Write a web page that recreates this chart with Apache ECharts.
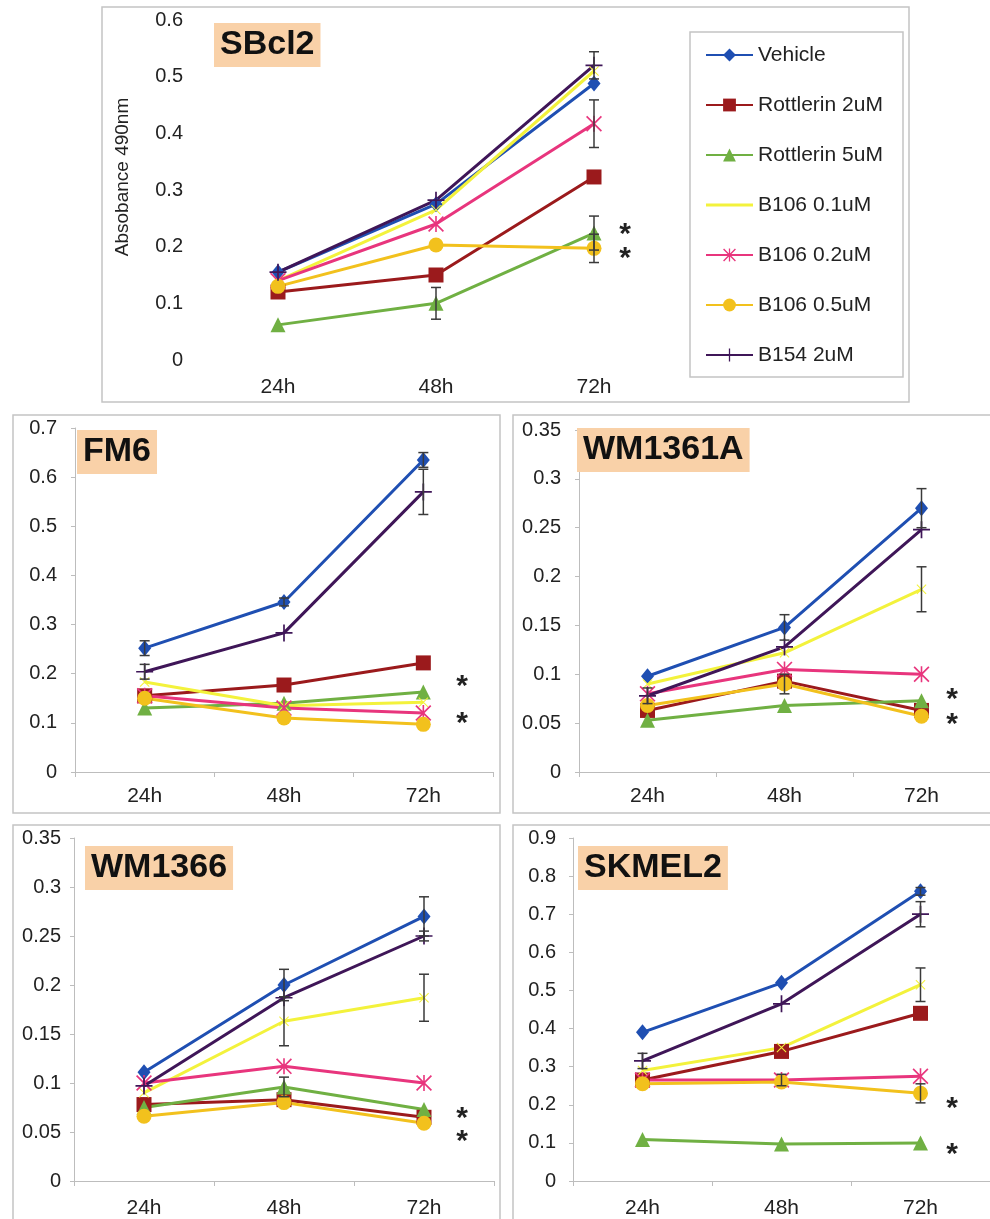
<!DOCTYPE html>
<html>
<head>
<meta charset="utf-8">
<script src="https://cdn.jsdelivr.net/npm/echarts@6/dist/echarts.min.js"></script>
<style>
  html, body { margin: 0; padding: 0; background: #fff; }
  #chart { width: 990px; height: 1219px; }
</style>
</head>
<body>
<div id="chart"></div>
<script>
const hours = ['24h', '48h', '72h'];
const treatments = ['Vehicle', 'Rottlerin 2uM', 'Rottlerin 5uM', 'B106 0.1uM', 'B106 0.2uM', 'B106 0.5uM', 'B154 2uM'];
const cellLines = ['SBcl2', 'FM6', 'WM1361A', 'WM1366', 'SKMEL2'];
const yMax = [0.6, 0.7, 0.35, 0.35, 0.9];
const yStep = [0.1, 0.1, 0.05, 0.05, 0.1];

// mean absorbance, one row per treatment (same order as treatments)
const sbcl2 = [
  [0.155, 0.275, 0.488],
  [0.12, 0.15, 0.323],
  [0.062, 0.10, 0.224],
  [0.14, 0.265, 0.51],
  [0.14, 0.24, 0.417],
  [0.13, 0.203, 0.197],
  [0.155, 0.282, 0.52]
];
const fm6 = [
  [0.252, 0.346, 0.635],
  [0.155, 0.177, 0.222],
  [0.13, 0.14, 0.163],
  [0.183, 0.135, 0.142],
  [0.155, 0.13, 0.12],
  [0.15, 0.11, 0.097],
  [0.204, 0.283, 0.57]
];
const wm1361a = [
  [0.098, 0.148, 0.27],
  [0.063, 0.093, 0.063],
  [0.053, 0.068, 0.073],
  [0.09, 0.122, 0.187],
  [0.08, 0.105, 0.10],
  [0.068, 0.09, 0.057],
  [0.078, 0.128, 0.248]
];
const wm1366 = [
  [0.111, 0.2, 0.27],
  [0.078, 0.083, 0.065],
  [0.075, 0.096, 0.073],
  [0.09, 0.163, 0.187],
  [0.1, 0.117, 0.1],
  [0.066, 0.08, 0.059],
  [0.097, 0.187, 0.25]
];
const skmel2 = [
  [0.39, 0.52, 0.76],
  [0.265, 0.34, 0.44],
  [0.109, 0.097, 0.1],
  [0.29, 0.35, 0.515],
  [0.265, 0.265, 0.275],
  [0.255, 0.26, 0.23],
  [0.315, 0.465, 0.70]
];

// error bar half-widths (0 = no bar drawn)
const sbcl2Err = [[0, 0, 0], [0, 0, 0], [0, 0.028, 0.03], [0, 0, 0], [0, 0, 0.042], [0, 0, 0.025], [0, 0, 0.024]];
const fm6Err = [[0.015, 0.008, 0.015], [0, 0, 0], [0, 0, 0], [0, 0, 0], [0, 0, 0], [0, 0, 0], [0.015, 0, 0.046]];
const wm1361aErr = [[0, 0.013, 0.02], [0, 0, 0], [0, 0, 0], [0, 0, 0.023], [0, 0, 0], [0, 0.01, 0], [0.008, 0, 0]];
const wm1366Err = [[0, 0.016, 0.02], [0, 0, 0], [0, 0.01, 0], [0, 0.025, 0.024], [0, 0, 0], [0, 0, 0], [0, 0, 0.005]];
const skmel2Err = [[0, 0, 0.01], [0, 0, 0], [0, 0, 0], [0, 0, 0.044], [0, 0.015, 0], [0, 0, 0.025], [0.02, 0, 0.033]];

const means = [sbcl2, fm6, wm1361a, wm1366, skmel2];
const errors = [sbcl2Err, fm6Err, wm1361aErr, wm1366Err, skmel2Err];

const FONT = '"Liberation Sans", Arial, sans-serif';
const colors = ['#1f4fb2', '#9b1a1c', '#70b043', '#f3f23c', '#e8357d', '#f2c11d', '#3f1658'];
const xPath = 'path://M0,1.5L1.5,0L20,18.5L18.5,20Z M20,1.5L1.5,20L0,18.5L18.5,0Z';
const starPath = 'path://M9,0H11V20H9Z M0,1.5L1.5,0L20,18.5L18.5,20Z M20,1.5L1.5,20L0,18.5L18.5,0Z';
const plusPath = 'path://M9,0H11V20H9Z M0,9H20V11H0Z';
const symbols = ['diamond', 'rect', 'triangle', xPath, starPath, 'circle', plusPath];
const symbolSizes = [[13, 16], 15, 15, 10, 16, 15, 17];

const grids = [
  { left: 199, top: 20, width: 474, height: 340 },
  { left: 75, top: 428, width: 418, height: 344 },
  { left: 579, top: 430, width: 411, height: 342 },
  { left: 74, top: 838, width: 420, height: 347 },
  { left: 573, top: 838, width: 420, height: 347 }
];
const yMargins = [16, 18, 18, 13, 17];
const xMargins = [17, 14, 14, 17, 17];

const myChart = echarts.init(document.getElementById('chart'));

const xAxes = grids.map((g, i) => ({
  type: 'category',
  gridIndex: i,
  data: hours,
  axisLine: { show: i > 0, lineStyle: { color: '#bdbdbd', width: 1 } },
  axisTick: { show: i > 0, length: 5, lineStyle: { color: '#bdbdbd' } },
  axisLabel: { margin: xMargins[i], fontSize: 21, color: '#222', fontFamily: FONT },
  splitLine: { show: false }
}));

const yAxes = grids.map((g, i) => ({
  type: 'value',
  gridIndex: i,
  min: 0,
  max: yMax[i],
  interval: yStep[i],
  axisLine: { show: i > 0, lineStyle: { color: '#bdbdbd', width: 1 } },
  axisTick: { show: i > 0, length: 4, lineStyle: { color: '#bdbdbd' } },
  axisLabel: { margin: yMargins[i], fontSize: 20, color: '#222', fontFamily: FONT },
  splitLine: { show: false }
}));

const series = [];
means.forEach((panel, p) => {
  panel.forEach((row, t) => {
    series.push({
      name: treatments[t],
      type: 'line',
      xAxisIndex: p,
      yAxisIndex: p,
      data: row,
      symbol: symbols[t],
      symbolSize: symbolSizes[t],
      showSymbol: true,
      lineStyle: { width: 3, color: colors[t] },
      itemStyle: { color: colors[t] },
      emphasis: { disabled: true }
    });
  });
  const bars = [];
  panel.forEach((row, t) => row.forEach((m, j) => {
    const e = errors[p][t][j];
    if (e > 0) bars.push([j, m - e, m + e]);
  }));
  series.push({
    type: 'custom',
    xAxisIndex: p,
    yAxisIndex: p,
    z: 5,
    silent: true,
    data: bars,
    encode: { x: 0, y: [1, 2] },
    renderItem: (params, api) => {
      const lo = api.coord([api.value(0), api.value(1)]);
      const hi = api.coord([api.value(0), api.value(2)]);
      const c = 5;
      const style = { stroke: '#3a3a3a', lineWidth: 1.5 };
      return {
        type: 'group',
        children: [
          { type: 'line', shape: { x1: lo[0], y1: lo[1], x2: hi[0], y2: hi[1] }, style },
          { type: 'line', shape: { x1: lo[0] - c, y1: lo[1], x2: lo[0] + c, y2: lo[1] }, style },
          { type: 'line', shape: { x1: hi[0] - c, y1: hi[1], x2: hi[0] + c, y2: hi[1] }, style }
        ]
      };
    }
  });
});

const titlePos = [[214, 23], [77, 430], [577, 428], [85, 846], [578, 846]];
const titles = cellLines.map((name, i) => ({
  text: name,
  left: titlePos[i][0],
  top: titlePos[i][1],
  backgroundColor: '#f9d1a8',
  padding: [4, 6, 4, 6],
  textStyle: { fontSize: 34, fontWeight: 'bold', color: '#111', fontFamily: FONT, lineHeight: 36 }
}));

// significance marks
const starMarks = [[625, 228], [625, 252], [462, 680], [462, 717], [952, 693], [952, 718], [462, 1112], [462, 1135], [952, 1102], [952, 1148]];

const frame = (x, y, w, h) => ({
  type: 'rect', shape: { x, y, width: w, height: h }, silent: true, z: -1,
  style: { fill: 'none', stroke: '#c4c4c4', lineWidth: 1.5 }
});

const graphics = [
  frame(102, 7, 807, 395),
  frame(13, 415, 487, 398),
  frame(513, 415, 490, 398),
  frame(13, 825, 487, 420),
  frame(513, 825, 490, 420),
  frame(690, 32, 213, 345),
  {
    type: 'text', x: 123, y: 177, rotation: Math.PI / 2, silent: true,
    style: { text: 'Absobance 490nm', fontSize: 19, fill: '#222', fontFamily: FONT, align: 'center', verticalAlign: 'middle' }
  }
].concat(starMarks.map(([x, y]) => ({
  type: 'text', x, y: y + 7, silent: true,
  style: { text: '*', fontSize: 30, fontWeight: 'bold', fill: '#222', fontFamily: FONT, align: 'center', verticalAlign: 'middle' }
})));

const option = {
  animation: false,
  backgroundColor: '#fff',
  title: titles,
  legend: {
    orient: 'vertical',
    left: 700,
    top: 39,
    itemWidth: 47,
    itemHeight: 16,
    itemGap: 28,
    data: treatments.map((n) => (n === 'B106 0.1uM' ? { name: n, icon: 'path://M0,0H47V3H0Z' } : n)),
    textStyle: { fontSize: 21, color: '#222', fontFamily: FONT, lineHeight: 22 },
    selectedMode: false
  },
  grid: grids,
  xAxis: xAxes,
  yAxis: yAxes,
  series,
  graphic: graphics
};

myChart.setOption(option);
</script>
</body>
</html>
